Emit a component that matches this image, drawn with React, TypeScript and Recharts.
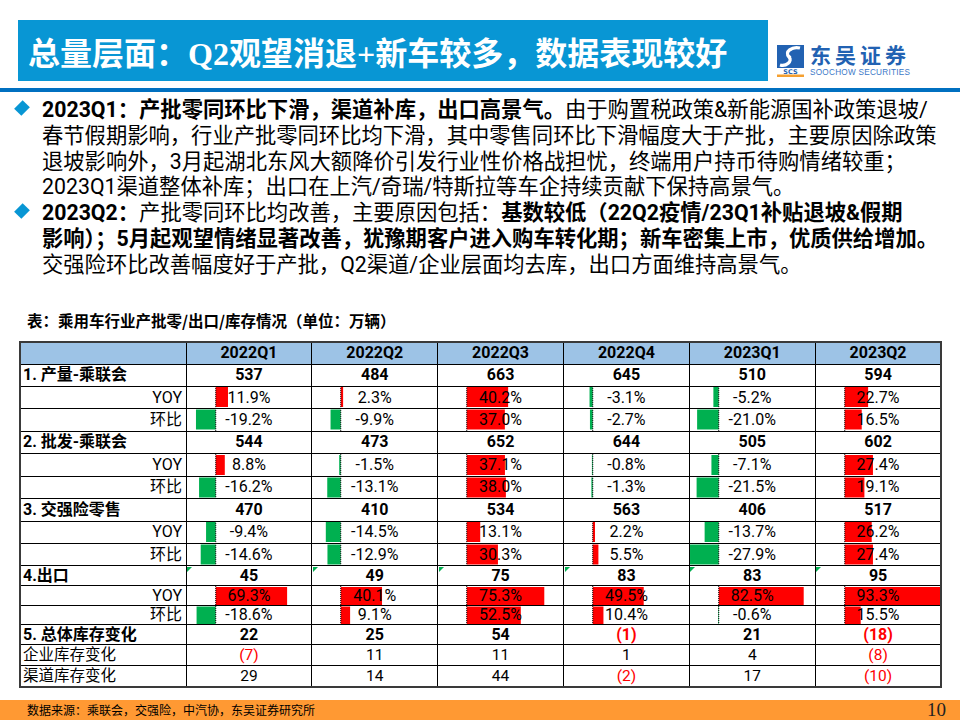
import React from "react";
import { BarChart, Bar, XAxis, YAxis, Cell, ReferenceLine } from "recharts";

const quarters = ["2022Q1", "2022Q2", "2022Q3", "2022Q4", "2023Q1", "2023Q2"];

// 万辆
const production = [537, 484, 663, 645, 510, 594];
const productionYoy = [11.9, 2.3, 40.2, -3.1, -5.2, 22.7];
const productionQoq = [-19.2, -9.9, 37.0, -2.7, -21.0, 16.5];
const wholesale = [544, 473, 652, 644, 505, 602];
const wholesaleYoy = [8.8, -1.5, 37.1, -0.8, -7.1, 27.4];
const wholesaleQoq = [-16.2, -13.1, 38.0, -1.3, -21.5, 19.1];
const retail = [470, 410, 534, 563, 406, 517];
const retailYoy = [-9.4, -14.5, 13.1, 2.2, -13.7, 26.2];
const retailQoq = [-14.6, -12.9, 30.3, 5.5, -27.9, 27.4];
const exportVol = [45, 49, 75, 83, 83, 95];
const exportYoy = [69.3, 40.1, 75.3, 49.5, 82.5, 93.3];
const exportQoq = [-18.6, 9.1, 52.5, 10.4, -0.6, 15.5];
const inventoryTotal = [22, 25, 54, -1, 21, -18];
const inventoryCorp = [-7, 11, 11, 1, 4, -8];
const inventoryChannel = [29, 14, 44, -2, 17, -10];

const RED = "#FF0000";
const GREEN = "#00B050";
const CJK = '"Noto Sans CJK SC", "Noto Sans", sans-serif';
const TABLE_FONT = 'Roboto, "Noto Sans CJK SC", sans-serif';

const rows = [
  { label: "1. 产量-乘联会", kind: "total", values: production },
  { label: "YOY", kind: "pct", values: productionYoy },
  { label: "环比", kind: "pct", values: productionQoq },
  { label: "2. 批发-乘联会", kind: "total", values: wholesale },
  { label: "YOY", kind: "pct", values: wholesaleYoy },
  { label: "环比", kind: "pct", values: wholesaleQoq },
  { label: "3. 交强险零售", kind: "total", values: retail },
  { label: "YOY", kind: "pct", values: retailYoy },
  { label: "环比", kind: "pct", values: retailQoq },
  { label: "4.出口", kind: "total", values: exportVol, marker: true },
  { label: "YOY", kind: "pct", values: exportYoy },
  { label: "环比", kind: "pct", values: exportQoq },
  { label: "5. 总体库存变化", kind: "invBold", values: inventoryTotal },
  { label: "企业库存变化", kind: "inv", values: inventoryCorp },
  { label: "渠道库存变化", kind: "inv", values: inventoryChannel },
];

// pairs of YOY / 环比 rows that carry data bars
const barGroups = [
  [productionYoy, productionQoq, 1],
  [wholesaleYoy, wholesaleQoq, 4],
  [retailYoy, retailQoq, 7],
  [exportYoy, exportQoq, 10],
];

const allPct = barGroups.flatMap((g) => [...(g[0] as number[]), ...(g[1] as number[])]);
const pctDomain = [Math.min(...allPct), Math.max(...allPct)];

// table geometry
const T_LEFT = 20;
const T_RIGHT = 941;
const LABEL_RIGHT = 186;
const T_TOP = 342;
const rowHeights = [22, 22.4, 22.4, 22.5, 22.4, 22.4, 22.5, 22.4, 22.4, 22.5, 20, 19.5, 19.5, 20, 21, 21];
const rowTops: number[] = [];
rowHeights.reduce((acc, h) => {
  rowTops.push(acc);
  return acc + h;
}, T_TOP);
const T_BOTTOM = rowTops[rowTops.length - 1] + rowHeights[rowHeights.length - 1];
const colW = (T_RIGHT - LABEL_RIGHT) / quarters.length;
const colX = (c: number) => LABEL_RIGHT + c * colW;

const DataBars = ({ yoy, qoq, x, y, w, h }) => {
  const data = [
    { k: "YOY", v: yoy },
    { k: "环比", v: qoq },
  ];
  return (
    <div style={{ position: "absolute", left: x, top: y }}>
      <BarChart
        width={w}
        height={h}
        data={data}
        layout="vertical"
        margin={{ top: 0, right: 0, bottom: 0, left: 0 }}
        barCategoryGap={1}
      >
        <XAxis type="number" domain={pctDomain} allowDataOverflow hide />
        <YAxis type="category" dataKey="k" hide />
        <Bar dataKey="v" isAnimationActive={false}>
          {data.map((d, i) => (
            <Cell key={i} fill={d.v < 0 ? GREEN : RED} />
          ))}
        </Bar>
        <ReferenceLine x={0} stroke="#000" strokeDasharray="1 1" />
      </BarChart>
    </div>
  );
};

const cellText = (kind: string, v: number) => {
  if (kind === "pct") return { text: v.toFixed(1) + "%", color: "#000", bold: false, size: 16 };
  if (kind === "total") return { text: String(v), color: "#000", bold: true, size: 16 };
  const neg = v < 0;
  return {
    text: neg ? `(${-v})` : String(v),
    color: neg ? RED : "#000",
    bold: kind === "invBold",
    size: kind === "invBold" ? 16 : 15.5,
  };
};

const cellBox = (left: number, top: number, width: number, height: number) => ({
  position: "absolute" as const,
  left,
  top,
  width,
  height,
  display: "flex",
  alignItems: "center",
  lineHeight: 1,
  whiteSpace: "nowrap" as const,
  fontFamily: TABLE_FONT,
});

const Table = () => {
  const els: React.ReactNode[] = [];

  // header background
  els.push(
    <div
      key="hdrbg"
      style={{
        position: "absolute",
        left: T_LEFT,
        top: T_TOP,
        width: T_RIGHT - T_LEFT,
        height: rowHeights[0],
        background: "#9DC3E6",
      }}
    />
  );

  // data bars
  barGroups.forEach(([yoy, qoq, r], gi) => {
    const ri = (r as number) + 1;
    quarters.forEach((q, c) => {
      els.push(
        <DataBars
          key={`bars-${gi}-${c}`}
          yoy={(yoy as number[])[c]}
          qoq={(qoq as number[])[c]}
          x={colX(c) + 0.5}
          y={rowTops[ri]}
          w={colW - 1}
          h={rowHeights[ri] + rowHeights[ri + 1]}
        />
      );
    });
  });

  // header text
  quarters.forEach((q, c) => {
    els.push(
      <div
        key={`hq-${c}`}
        style={{
          ...cellBox(colX(c), T_TOP, colW, rowHeights[0]),
          justifyContent: "center",
          fontWeight: 700,
          fontSize: 16,
        }}
      >
        {q}
      </div>
    );
  });

  rows.forEach((row, r) => {
    const ri = r + 1;
    const top = rowTops[ri];
    const h = rowHeights[ri];
    const isSub = row.kind === "pct";
    const bold = row.kind === "total" || row.kind === "invBold";
    els.push(
      <div
        key={`lbl-${r}`}
        style={{
          ...cellBox(T_LEFT, top, LABEL_RIGHT - T_LEFT, h),
          justifyContent: isSub ? "flex-end" : "flex-start",
          boxSizing: "border-box",
          padding: isSub ? "0 4px 0 0" : "0 0 0 3px",
          fontWeight: bold ? 700 : 400,
          fontSize: bold || isSub ? 16 : 15.5,
        }}
      >
        {row.label}
      </div>
    );
    row.values.forEach((v, c) => {
      const t = cellText(row.kind, v);
      els.push(
        <div
          key={`v-${r}-${c}`}
          style={{
            ...cellBox(colX(c), top, colW, h),
            justifyContent: "center",
            fontWeight: t.bold ? 700 : 400,
            fontSize: t.size,
            color: t.color,
          }}
        >
          {t.text}
        </div>
      );
      if (row.marker) {
        els.push(
          <div
            key={`mk-${r}-${c}`}
            style={{
              position: "absolute",
              left: colX(c) + 1,
              top: top + 1,
              width: 0,
              height: 0,
              borderTop: `5px solid ${GREEN}`,
              borderRight: "5px solid transparent",
            }}
          />
        );
      }
    });
  });

  // grid lines
  rowTops.slice(1).forEach((y, i) => {
    els.push(
      <div
        key={`hl-${i}`}
        style={{
          position: "absolute",
          left: T_LEFT,
          top: y - 0.5,
          width: T_RIGHT - T_LEFT,
          height: 1,
          background: "#000",
        }}
      />
    );
  });
  for (let c = 0; c < quarters.length; c++) {
    els.push(
      <div
        key={`vl-${c}`}
        style={{
          position: "absolute",
          left: colX(c) - 0.5,
          top: T_TOP,
          width: 1,
          height: T_BOTTOM - T_TOP,
          background: "#000",
        }}
      />
    );
  }
  els.push(
    <div
      key="outer"
      style={{
        position: "absolute",
        left: T_LEFT - 1,
        top: T_TOP - 1,
        width: T_RIGHT - T_LEFT + 2,
        height: T_BOTTOM - T_TOP + 2,
        boxSizing: "border-box",
        border: "2px solid #3a3a3a",
      }}
    />
  );

  return <>{els}</>;
};

const Logo = () => (
  <svg style={{ position: "absolute", left: 770, top: 38 }} width={150} height={44}>
    <rect x={7} y={7} width={27} height={23} fill="#2262B2" />
    <path
      d="M30 10 C22 8 14 14 19 19 C23 23 16 29 10 27"
      stroke="#fff"
      strokeWidth={3.2}
      fill="none"
    />
    <path d="M25 10 C18 12 15 16 21 19" stroke="#fff" strokeWidth={1.6} fill="none" />
    <text x={20.5} y={35.5} fontSize={6.5} fontWeight={700} fill="#2262B2" textAnchor="middle" fontFamily="DejaVu Sans">
      SCS
    </text>
    <rect x={7} y={36.5} width={27} height={2.5} fill="#F5A030" />
    <text x={40} y={24.5} fontSize={21} fontWeight={700} fill="#2262B2" fontFamily={CJK} letterSpacing={4}>
      东吴证券
    </text>
    <text x={40} y={36.5} fontSize={8.2} fill="#3B78C8" fontFamily="Liberation Sans" textLength={100}>
      SOOCHOW SECURITIES
    </text>
  </svg>
);

const B = ({ children }) => <span style={{ fontWeight: 700 }}>{children}</span>;

const Diamond = ({ cy }) => (
  <div
    style={{
      position: "absolute",
      left: 16,
      top: cy - 6,
      width: 12,
      height: 12,
      background: "#0896D4",
      transform: "rotate(45deg) scaleX(0.85)",
    }}
  />
);

export default function App() {
  return (
    <div
      style={{
        position: "absolute",
        left: 0,
        top: 0,
        width: 960,
        height: 720,
        overflow: "hidden",
        background: "#fff",
        fontFamily: CJK,
        color: "#000",
      }}
    >
      {/* title */}
      <div
        style={{
          position: "absolute",
          left: 18,
          top: 20,
          width: 750,
          height: 61,
          background: "#0896D4",
          display: "flex",
          alignItems: "center",
          paddingLeft: 10,
          boxSizing: "border-box",
          color: "#fff",
          fontWeight: 700,
          fontSize: 32,
          fontFamily: '"Liberation Serif", "Noto Sans CJK SC", serif',
          whiteSpace: "nowrap",
        }}
      >
        总量层面：Q2观望消退+新车较多，数据表现较好
      </div>
      <Logo />
      <div style={{ position: "absolute", left: 0, top: 88, width: 960, height: 4, background: "#0070C0" }} />

      {/* bullets */}
      <Diamond cy={108} />
      <Diamond cy={211} />
      <div
        style={{
          position: "absolute",
          left: 42,
          top: 97,
          fontSize: 21.3,
          lineHeight: "25.8px",
          whiteSpace: "nowrap",
          fontFamily: TABLE_FONT,
        }}
      >
        <div>
          <B>2023Q1：产批零同环比下滑，渠道补库，出口高景气。</B>由于购置税政策&新能源国补政策退坡/
        </div>
        <div>春节假期影响，行业产批零同环比均下滑，其中零售同环比下滑幅度大于产批，主要原因除政策</div>
        <div>退坡影响外，3月起湖北东风大额降价引发行业性价格战担忧，终端用户持币待购情绪较重；</div>
        <div>2023Q1渠道整体补库；出口在上汽/奇瑞/特斯拉等车企持续贡献下保持高景气。</div>
        <div>
          <B>2023Q2：</B>产批零同环比均改善，主要原因包括：<B>基数较低（22Q2疫情/23Q1补贴退坡&假期</B>
        </div>
        <div>
          <B>影响）；5月起观望情绪显著改善，犹豫期客户进入购车转化期；新车密集上市，优质供给增加。</B>
        </div>
        <div>交强险环比改善幅度好于产批，Q2渠道/企业层面均去库，出口方面维持高景气。</div>
      </div>

      {/* table caption */}
      <div
        style={{
          position: "absolute",
          left: 27,
          top: 309,
          fontSize: 15.5,
          fontWeight: 700,
          lineHeight: "22px",
          whiteSpace: "nowrap",
        }}
      >
        表：乘用车行业产批零/出口/库存情况（单位：万辆）
      </div>

      <Table />

      {/* footer */}
      <div
        style={{
          position: "absolute",
          left: 0,
          top: 700,
          width: 960,
          height: 20,
          background: "#FF9933",
        }}
      />
      <div
        style={{
          position: "absolute",
          left: 27,
          top: 700,
          height: 20,
          lineHeight: "20px",
          fontSize: 12,
          whiteSpace: "nowrap",
        }}
      >
        数据来源：乘联会，交强险，中汽协，东吴证券研究所
      </div>
      <div
        style={{
          position: "absolute",
          right: 14,
          top: 699,
          height: 22,
          lineHeight: "22px",
          fontSize: 19,
          fontFamily: '"Liberation Serif", serif',
          color: "#222",
        }}
      >
        10
      </div>
    </div>
  );
}
